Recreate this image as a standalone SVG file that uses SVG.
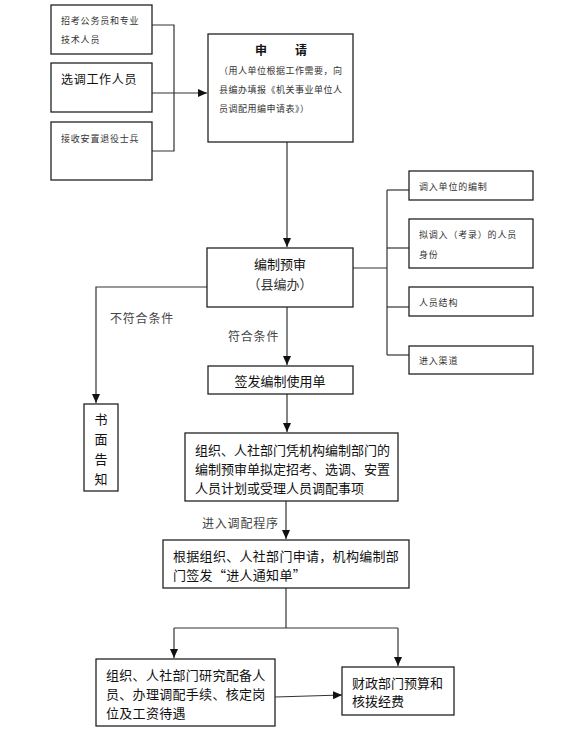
<svg xmlns="http://www.w3.org/2000/svg" width="583" height="747" viewBox="0 0 583 747">
<style>
  .box{fill:#fff;stroke:#222;stroke-width:1.3}
  .ln{fill:none;stroke:#333;stroke-width:1.2}
  text{font-family:"Noto Sans CJK SC","Noto Sans",sans-serif;dominant-baseline:central;fill:#111}
  .sm{font-size:9px;letter-spacing:0.8px;fill:#333}
  .md{font-size:13px}
  .lb{font-size:12px;letter-spacing:0.8px;fill:#444}
</style>
<defs>
  <marker id="ar" markerUnits="userSpaceOnUse" markerWidth="10" markerHeight="10" refX="9" refY="4" orient="auto">
    <path d="M0,0 L9,4 L0,8 Z" fill="#111"/>
  </marker>
</defs>
<rect width="583" height="747" fill="#fff"/>
<g id="connectors">
  <polyline class="ln" points="152,25 174,25 174,151 152,151"/>
  <line class="ln" x1="152" y1="93" x2="207" y2="93" marker-end="url(#ar)"/>
  <line class="ln" x1="287" y1="142" x2="287" y2="247" marker-end="url(#ar)"/>
  <line class="ln" x1="353" y1="268" x2="387" y2="268"/>
  <line class="ln" x1="387" y1="190" x2="387" y2="355"/>
  <line class="ln" x1="387" y1="190" x2="409" y2="190"/>
  <line class="ln" x1="387" y1="248" x2="409" y2="248"/>
  <line class="ln" x1="387" y1="307" x2="409" y2="307"/>
  <line class="ln" x1="387" y1="355" x2="409" y2="355"/>
  <polyline class="ln" points="207,287 96,287 96,403" marker-end="url(#ar)"/>
  <line class="ln" x1="287" y1="307" x2="287" y2="365" marker-end="url(#ar)"/>
  <line class="ln" x1="287" y1="394" x2="287" y2="432" marker-end="url(#ar)"/>
  <line class="ln" x1="286" y1="501" x2="286" y2="539" marker-end="url(#ar)"/>
  <line class="ln" x1="286" y1="588" x2="286" y2="628"/>
  <line class="ln" x1="174" y1="628" x2="398" y2="628"/>
  <line class="ln" x1="174" y1="628" x2="174" y2="658" marker-end="url(#ar)"/>
  <line class="ln" x1="398" y1="628" x2="398" y2="666" marker-end="url(#ar)"/>
  <line class="ln" x1="275" y1="697" x2="342" y2="695" marker-end="url(#ar)"/>
  <text class="lb" x="110" y="317">不符合条件</text>
  <text class="lb" x="228" y="335">符合条件</text>
  <text class="lb" x="202" y="522">进入调配程序</text>
</g>
<g id="n1">
  <rect class="box" x="51" y="5" width="101" height="49"/>
  <text class="sm" x="61" y="20">招考公务员和专业</text>
  <text class="sm" x="61" y="39">技术人员</text>
</g>
<g id="n2">
  <rect class="box" x="51" y="63" width="101" height="49"/>
  <text x="61" y="78" style="font-size:12px;letter-spacing:0.7px">选调工作人员</text>
</g>
<g id="n3">
  <rect class="box" x="51" y="122" width="101" height="58"/>
  <text class="sm" x="61" y="138">接收安置退役士兵</text>
</g>
<g id="n4">
  <rect class="box" x="208" y="34" width="145" height="108"/>
  <text x="255" y="49" style="font-size:12px;font-weight:bold">申</text>
  <text x="295" y="49" style="font-size:12px;font-weight:bold">请</text>
  <text class="sm" x="219" y="70" style="letter-spacing:0.5px">（用人单位根据工作需要，向</text>
  <text class="sm" x="219" y="89" style="letter-spacing:0.5px">县编办填报《机关事业单位人</text>
  <text class="sm" x="219" y="108" style="letter-spacing:0.5px">员调配用编申请表》）</text>
</g>
<g id="n5">
  <rect class="box" x="207" y="248" width="146" height="59"/>
  <text class="md" x="280" y="263" text-anchor="middle">编制预审</text>
  <text class="md" x="280" y="283" text-anchor="middle" style="fill:#333">（县编办）</text>
</g>
<g id="n6">
  <rect class="box" x="409" y="171" width="124" height="29"/>
  <text class="sm" x="419" y="186">调入单位的编制</text>
</g>
<g id="n7">
  <rect class="box" x="409" y="219" width="124" height="49"/>
  <text class="sm" x="419" y="234">拟调入（考录）的人员</text>
  <text class="sm" x="419" y="254">身份</text>
</g>
<g id="n8">
  <rect class="box" x="409" y="287" width="124" height="29"/>
  <text class="sm" x="419" y="302">人员结构</text>
</g>
<g id="n9">
  <rect class="box" x="409" y="346" width="124" height="28"/>
  <text class="sm" x="419" y="360">进入渠道</text>
</g>
<g id="n10">
  <rect class="box" x="84" y="404" width="34" height="87"/>
  <text class="md" x="101" y="418" text-anchor="middle">书</text>
  <text class="md" x="101" y="438" text-anchor="middle">面</text>
  <text class="md" x="101" y="458" text-anchor="middle">告</text>
  <text class="md" x="101" y="478" text-anchor="middle">知</text>
</g>
<g id="n11">
  <rect class="box" x="208" y="366" width="145" height="28"/>
  <text class="md" x="280" y="380" text-anchor="middle">签发编制使用单</text>
</g>
<g id="n12">
  <rect class="box" x="185" y="433" width="213" height="68"/>
  <text class="md" x="195" y="449">组织、人社部门凭机构编制部门的</text>
  <text class="md" x="195" y="468">编制预审单拟定招考、选调、安置</text>
  <text class="md" x="195" y="487">人员计划或受理人员调配事项</text>
</g>
<g id="n13">
  <rect class="box" x="163" y="540" width="246" height="48"/>
  <text class="md" x="173" y="555" style="letter-spacing:0.3px">根据组织、人社部门申请，机构编制部</text>
  <text class="md" x="173" y="574" style="letter-spacing:0.3px">门签发“进人通知单”</text>
</g>
<g id="n14">
  <rect class="box" x="96" y="659" width="179" height="67"/>
  <text class="md" x="106" y="674" style="letter-spacing:0.3px">组织、人社部门研究配备人</text>
  <text class="md" x="106" y="693" style="letter-spacing:0.3px">员、办理调配手续、核定岗</text>
  <text class="md" x="106" y="712" style="letter-spacing:0.3px">位及工资待遇</text>
</g>
<g id="n15">
  <rect class="box" x="342" y="667" width="112" height="48"/>
  <text class="md" x="352" y="682">财政部门预算和</text>
  <text class="md" x="352" y="700">核拨经费</text>
</g>
</svg>
